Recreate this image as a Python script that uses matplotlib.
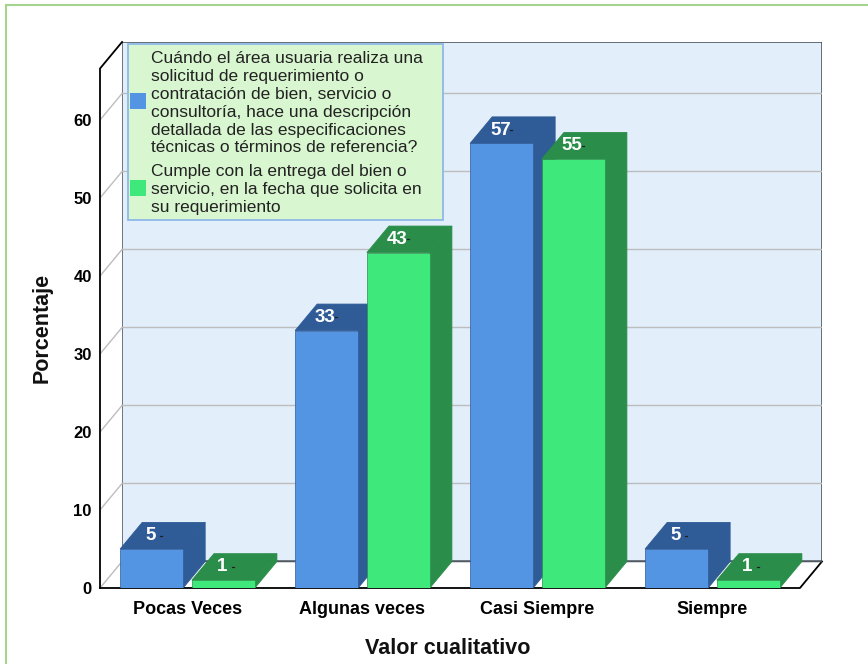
import numpy as np
import matplotlib.pyplot as plt
from matplotlib.patches import Polygon, Rectangle
from matplotlib.lines import Line2D

plt.rcParams['font.family'] = ['Liberation Sans', 'DejaVu Sans']

categorias = ['Pocas Veces', 'Algunas veces', 'Casi Siempre', 'Siempre']
solicitud = [5, 33, 57, 5]
entrega = [1, 43, 55, 1]
yticks = [0, 10, 20, 30, 40, 50, 60]
leyenda = ['Cuándo el área usuaria realiza una\nsolicitud de requerimiento o\n'
           'contratación de bien, servicio o\nconsultoría, hace una descripción\n'
           'detallada de las especificaciones\ntécnicas o términos de referencia?',
           'Cumple con la entrega del bien o\nservicio, en la fecha que solicita en\nsu requerimiento']

# colores: cara frontal, cara superior/lateral
azul = ('#5394E3', '#2F5B97')
verde = ('#3FE87B', '#2A8E4A')

W = 0.36        # ancho de barra
DX = 0.126      # profundidad en x
DY = 3.4        # profundidad en y
YTOP = 66.6

W_PX, H_PX = 868, 664
def fx(x): return x / W_PX
def fy(y): return 1 - y / H_PX

fig = plt.figure(figsize=(W_PX / 100, H_PX / 100), dpi=100)
ax = fig.add_axes([fx(100), fy(588), (822 - 100) / W_PX, (588 - 42) / H_PX])
ax.set_xlim(-0.5, len(categorias) - 0.5 + DX)
ax.set_ylim(0, YTOP + DY)
for s in ax.spines.values():
    s.set_visible(False)
ax.patch.set_visible(False)

x0, x1 = -0.5, len(categorias) - 0.5
# pared del fondo
ax.add_patch(Polygon([(x0 + DX, DY), (x1 + DX, DY), (x1 + DX, YTOP + DY), (x0 + DX, YTOP + DY)],
                     closed=True, fc='#E2EEFA', ec='#4F5963', lw=1.2, zorder=1))
# pared izquierda
ax.add_patch(Polygon([(x0, 0), (x0 + DX, DY), (x0 + DX, YTOP + DY), (x0, YTOP)],
                     closed=True, fc='white', ec='none', zorder=1))
# piso
ax.add_patch(Polygon([(x0, 0), (x1, 0), (x1 + DX, DY), (x0 + DX, DY)],
                     closed=True, fc='white', ec='none', zorder=1))
# rejilla
for v in yticks:
    ax.plot([x0 + DX, x1 + DX], [v + DY, v + DY], color='#BDBDBD', lw=1, zorder=2)
    ax.plot([x0, x0 + DX], [v, v + DY], color='#BDBDBD', lw=1, zorder=2)
# bordes
ax.plot([x0, x1, x1 + DX], [0, 0, DY], color='black', lw=1.3, zorder=2, clip_on=False)
ax.plot([x0, x0, x0 + DX], [0, YTOP, YTOP + DY], color='black', lw=1.3, zorder=2, clip_on=False)
ax.plot([x0 + DX, x1 + DX], [DY, DY], color='#4F5963', lw=1, zorder=2)


def barra(left, v, colores, z):
    front, dark = colores
    ax.add_patch(Polygon([(left + W, 0), (left + W + DX, DY), (left + W + DX, v + DY), (left + W, v)],
                         closed=True, fc=dark, ec=dark, lw=0.6, zorder=z))
    ax.add_patch(Polygon([(left, v), (left + W, v), (left + W + DX, v + DY), (left + DX, v + DY)],
                         closed=True, fc=dark, ec=dark, lw=0.6, zorder=z))
    ax.add_patch(Rectangle((left, 0), W, v, fc=front, ec=dark, lw=0.5, zorder=z))
    cx = left + W / 2 + DX / 2
    cy = v + DY / 2
    ax.text(cx - 0.07, cy, str(v), color='white', fontsize=13.5, fontweight='bold',
            ha='center', va='center', zorder=z + 0.5)
    ax.plot([cx - 0.016, cx - 0.004], [cy, cy], color='#202020', lw=0.9, zorder=z + 0.5)


z = 3
for i, cat in enumerate(categorias):
    barra(i - 0.385, solicitud[i], azul, z)
    z += 1
    barra(i + 0.025, entrega[i], verde, z)
    z += 1

ax.set_yticks(yticks)
ax.set_yticklabels([str(t) for t in yticks], fontsize=12, fontweight='bold')
ax.set_xticks(range(len(categorias)))
ax.set_xticklabels(categorias, fontsize=13, fontweight='bold')
ax.tick_params(axis='y', length=0, pad=6)
ax.tick_params(axis='x', length=0, pad=9)

fig.text(fx(448), fy(648), 'Valor cualitativo', ha='center', va='center',
         fontsize=15.5, fontweight='bold', color='#111111')
fig.text(fx(42), fy(328), 'Porcentaje', ha='center', va='center', rotation=90,
         fontsize=15.5, fontweight='bold', color='#111111')

# leyenda
fig.add_artist(Rectangle((fx(128), fy(220)), (443 - 128) / W_PX, (220 - 44) / H_PX,
                         transform=fig.transFigure, fc='#D8F6CF', ec='#8FB9E8', lw=1.3))
fig.add_artist(Rectangle((fx(130), fy(109)), 16 / W_PX, 16 / H_PX,
                         transform=fig.transFigure, fc=azul[0], ec='none'))
fig.add_artist(Rectangle((fx(130), fy(196)), 16 / W_PX, 16 / H_PX,
                         transform=fig.transFigure, fc=verde[0], ec='none'))
fig.text(fx(151), fy(51), leyenda[0], ha='left', va='top', fontsize=12.5,
         color='#222222', linespacing=1.24)
fig.text(fx(151), fy(164), leyenda[1], ha='left', va='top', fontsize=12.5,
         color='#222222', linespacing=1.24)

# marco exterior
fig.add_artist(Line2D([fx(6), fx(868)], [fy(5), fy(5)], transform=fig.transFigure,
                      color='#A6D48E', lw=1.5))
fig.add_artist(Line2D([fx(6), fx(6)], [fy(5), fy(664)], transform=fig.transFigure,
                      color='#A6D48E', lw=1.5))

fig.savefig('out.png', dpi=100)
